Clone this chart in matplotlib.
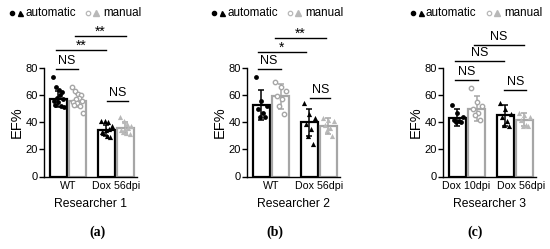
import matplotlib.pyplot as plt
import numpy as np

plt.rcParams["font.family"] = ["Liberation Sans", "DejaVu Sans"]

BLACK = "#000000"
GRAY = "#a6a6a6"
LGRAY = "#b8b8b8"

# ---------------------------------------------------------------------------
# data (EF%)
# ---------------------------------------------------------------------------
groups_a = ["WT", "Dox 56dpi"]
groups_b = ["WT", "Dox 56dpi"]
groups_c = ["Dox 10dpi", "Dox 56dpi"]

# panel a (Researcher 1)
a_auto_g1 = [73, 66, 64, 62, 60, 58, 57, 56, 55, 53, 52, 51]
a_man_g1 = [66, 63, 61, 60, 58, 57, 56, 55, 54, 53, 52, 47]
a_auto_g2 = [41, 41, 40, 37, 35, 34, 33, 32, 30, 29]
a_man_g2 = [44, 41, 39, 37, 36, 35, 34, 33, 32, 31]
a_mean = [57, 56, 34, 36]
a_sd = [6, 5, 4, 4]

# panel b (Researcher 2)
b_auto_g1 = [73, 56, 52, 50, 47, 44, 44]
b_man_g1 = [70, 66, 63, 59, 57, 52, 46]
b_auto_g2 = [54, 46, 43, 39, 35, 30, 24]
b_man_g2 = [43, 42, 41, 38, 36, 34, 30]
b_mean = [53, 59, 40, 37]
b_sd = [11, 9, 10, 6]

# panel c (Researcher 3)
c_auto_g1 = [53, 47, 44, 42, 41, 40, 40]
c_man_g1 = [65, 55, 52, 50, 47, 45, 42]
c_auto_g2 = [54, 50, 46, 44, 41, 38, 37]
c_man_g2 = [47, 45, 44, 42, 38, 37, 37]
c_mean = [43.5, 50, 45, 42]
c_sd = [6, 9, 8, 5]

# significance brackets: (x1, x2, level, label)
sig_a = [(0.6, 1.75, 79, "NS"), (3.3, 4.4, 56, "NS"),
         (0.6, 3.25, 93, "**"), (1.6, 4.3, 103.5, "**")]
sig_b = [(0.55, 1.75, 79, "NS"), (3.3, 4.35, 58, "NS"),
         (0.55, 3.1, 91.5, "*"), (1.45, 4.1, 102, "**")]
sig_c = [(0.65, 1.8, 71, "NS"), (3.2, 4.35, 64, "NS"),
         (0.6, 3.2, 85, "NS"), (1.6, 4.2, 97, "NS")]

# ---------------------------------------------------------------------------
fig = plt.figure(figsize=(5.5, 2.49), dpi=100)

centers = [0.75, 1.75, 3.25, 4.25]
W = 0.9


def spread(n, width=0.55):
    # simple beeswarm-like horizontal offsets
    return np.linspace(-width / 2, width / 2, n)[np.argsort(np.arange(n) % 3)]


def panel(left, pts, means, sds, groups, sigs, researcher, tickpos=(1.25, 3.75)):
    ax = fig.add_axes([left / 550, 72.5 / 249, 93 / 550, 108.5 / 249])
    xs = centers
    edge = [BLACK, GRAY, BLACK, GRAY]
    for i in range(4):
        ax.bar(xs[i], means[i], width=W, facecolor="white", edgecolor=edge[i],
               linewidth=1.6, zorder=1)
        ax.errorbar(xs[i], means[i], yerr=sds[i], color=edge[i], lw=1.1,
                    capsize=2.5, capthick=1.1, zorder=3)
    n = [len(v) for v in pts]
    ax.scatter(xs[0] + spread(n[0]), pts[0], s=12, marker="o", color=BLACK,
               zorder=4, linewidths=0)
    ax.scatter(xs[1] + spread(n[1]), pts[1], s=10, marker="o", facecolor="white",
               edgecolor=GRAY, linewidths=1.0, zorder=4)
    ax.scatter(xs[2] + spread(n[2]), pts[2], s=14, marker="^", color=BLACK,
               zorder=4, linewidths=0)
    ax.scatter(xs[3] + spread(n[3]), pts[3], s=14, marker="^", color=LGRAY,
               zorder=4, linewidths=0)

    ax.set_xlim(0, 4.85)
    ax.set_ylim(0, 80)
    ax.set_yticks([0, 20, 40, 60, 80])
    ax.set_xticks(list(tickpos))
    ax.set_xticklabels(groups, fontsize=7.7)
    ax.tick_params(axis="x", length=0, pad=3)
    ax.tick_params(axis="y", length=3.5, width=1, labelsize=8, pad=1)
    for s in ["top", "right"]:
        ax.spines[s].set_visible(False)
    for s in ["left", "bottom"]:
        ax.spines[s].set_linewidth(1)
    ax.set_ylabel("EF%", fontsize=10.5, labelpad=1)
    ax.set_xlabel(researcher, fontsize=8.7, labelpad=5)

    for x1, x2, y, lab in sigs:
        ax.plot([x1, x2], [y, y], color=BLACK, lw=1, clip_on=False)
        if lab == "NS":
            ax.text((x1 + x2) / 2, y + 1.5, lab, ha="center", va="bottom",
                    fontsize=9, clip_on=False)
        else:
            ax.text((x1 + x2) / 2, y - 2, lab, ha="center", va="bottom",
                    fontsize=10, clip_on=False)
    return ax


panel(44, [a_auto_g1, a_man_g1, a_auto_g2, a_man_g2], a_mean, a_sd,
      groups_a, sig_a, "Researcher 1")
panel(247, [b_auto_g1, b_man_g1, b_auto_g2, b_man_g2], b_mean, b_sd,
      groups_b, sig_b, "Researcher 2")
panel(443, [c_auto_g1, c_man_g1, c_auto_g2, c_man_g2], c_mean, c_sd,
      groups_c, sig_c, "Researcher 3", tickpos=(1.2, 4.1))


# legends (placed in figure pixels)
def legend(x0):
    def fx(px):
        return px / 550
    y = 1 - 13 / 249
    fig.add_artist(plt.Line2D([fx(x0)], [y], marker="o", ms=3, color=BLACK, lw=0))
    fig.add_artist(plt.Line2D([fx(x0 + 8)], [y], marker="^", ms=3.6, color=BLACK, lw=0))
    fig.text(fx(x0 + 13), y, "automatic", fontsize=8.4, va="center")
    fig.add_artist(plt.Line2D([fx(x0 + 76)], [y], marker="o", ms=3.2, mfc="white",
                              mec=LGRAY, mew=0.9, lw=0))
    fig.add_artist(plt.Line2D([fx(x0 + 84)], [y], marker="^", ms=3.8, color=LGRAY, lw=0))
    fig.text(fx(x0 + 91), y, "manual", fontsize=8.4, va="center")


legend(12)
legend(214)
legend(413)

for x, tag in [(97, "(a)"), (275, "(b)"), (475, "(c)")]:
    fig.text(x / 550, 1 - 232 / 249, tag, fontsize=10, ha="center", va="center",
             family="Liberation Serif", fontweight="bold")

fig.savefig("out.png", dpi=100)
